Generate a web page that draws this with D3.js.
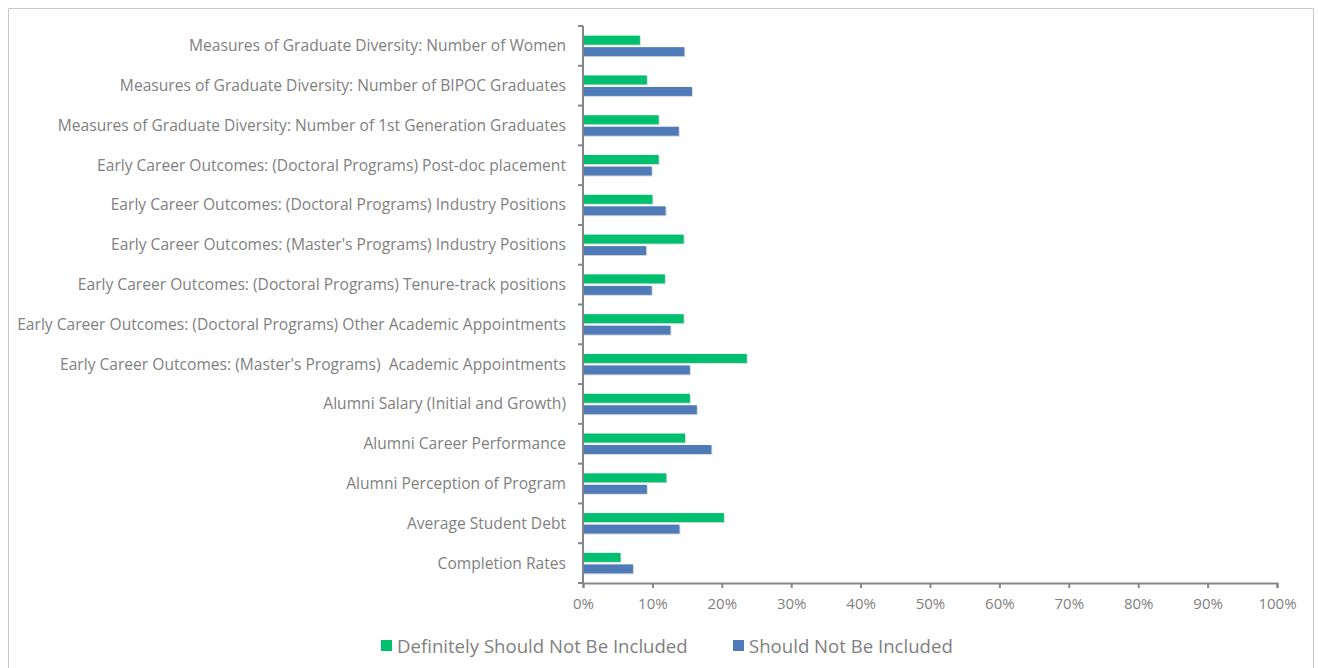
<!DOCTYPE html>
<html>
<head>
<meta charset="utf-8">
<script src="https://cdn.jsdelivr.net/npm/d3@7"></script>
<style>
  body { margin: 0; background: #fff; }
  svg text { font-family: "Open Sans", "Noto Sans", sans-serif; fill: #7f7f7f; white-space: pre; }
</style>
</head>
<body>
<svg width="1318" height="668"></svg>
<script>
// categories top to bottom
const categories = [
    "Measures of Graduate Diversity: Number of Women",
    "Measures of Graduate Diversity: Number of BIPOC Graduates",
    "Measures of Graduate Diversity: Number of 1st Generation Graduates",
    "Early Career Outcomes: (Doctoral Programs) Post-doc placement",
    "Early Career Outcomes: (Doctoral Programs) Industry Positions",
    "Early Career Outcomes: (Master's Programs) Industry Positions",
    "Early Career Outcomes: (Doctoral Programs) Tenure-track positions",
    "Early Career Outcomes: (Doctoral Programs) Other Academic Appointments",
    "Early Career Outcomes: (Master's Programs)  Academic Appointments",
    "Alumni Salary (Initial and Growth)",
    "Alumni Career Performance",
    "Alumni Perception of Program",
    "Average Student Debt",
    "Completion Rates"
];
const definitelyNot = [0.082, 0.092, 0.109, 0.109, 0.100, 0.145, 0.118, 0.145, 0.236, 0.154, 0.147, 0.120, 0.203, 0.054];
const shouldNot = [0.146, 0.157, 0.138, 0.099, 0.119, 0.091, 0.099, 0.126, 0.154, 0.164, 0.185, 0.092, 0.139, 0.072];
const seriesNames = ["Definitely Should Not Be Included", "Should Not Be Included"];
const seriesColors = ["#00bf6f", "#4f7cb8"];
const xTicks = [0, 0.1, 0.2, 0.3, 0.4, 0.5, 0.6, 0.7, 0.8, 0.9, 1.0];

const margin = { top: 26, left: 583, right: 41, bottom: 85 };
const W = 1318, H = 668;

const svg = d3.select("svg");

// outer frame (open at bottom)
svg.append("path")
    .attr("d", "M8.5,668 V8.5 H1313.5 V668")
    .attr("fill", "none")
    .attr("stroke", "#c8c8c8")
    .attr("stroke-width", 1);

const x = d3.scaleLinear().domain([0, 1]).range([margin.left, W - margin.right]);
const y = d3.scaleBand().domain(categories).range([margin.top, H - margin.bottom]);

const g = svg.append("g");

// bars: green on top, blue below, with a faint shadow
const barH = 9, gap = 2.5;
const rows = categories.map((c, i) => ({ c, vals: [definitelyNot[i], shouldNot[i]] }));

rows.forEach(r => {
    const mid = y(r.c) + y.bandwidth() / 2;
    r.vals.forEach((v, k) => {
        const top = k === 0 ? mid - gap / 2 - barH : mid + gap / 2;
        g.append("rect")
            .attr("x", x(0) + 1)
            .attr("y", top + 1)
            .attr("width", x(v) - x(0))
            .attr("height", barH)
            .attr("fill", "#dadada");
        g.append("rect")
            .attr("x", x(0))
            .attr("y", top)
            .attr("width", x(v) - x(0))
            .attr("height", barH)
            .attr("fill", seriesColors[k]);
    });
});

// left axis with ticks at category boundaries
const bounds = categories.map(c => y(c)).concat([y.range()[1]]);
g.append("line")
    .attr("x1", x(0)).attr("x2", x(0))
    .attr("y1", margin.top).attr("y2", H - margin.bottom)
    .attr("stroke", "#868686").attr("stroke-width", 2);
g.selectAll(".ytick").data(bounds).enter().append("line")
    .attr("x1", x(0) - 5).attr("x2", x(0))
    .attr("y1", d => d).attr("y2", d => d)
    .attr("stroke", "#868686").attr("stroke-width", 2);

g.selectAll(".ylab").data(categories).enter().append("text")
    .attr("x", x(0) - 17)
    .attr("y", d => y(d) + y.bandwidth() / 2)
    .attr("dy", "0.35em")
    .attr("text-anchor", "end")
    .style("font-size", "15.6px")
    .text(d => d);

// bottom axis
const xAxis = svg.append("g")
    .attr("transform", "translate(0," + (H - margin.bottom) + ")")
    .call(d3.axisBottom(x).tickValues(xTicks).tickFormat(d3.format(".0%")).tickSize(5).tickPadding(10));
xAxis.select(".domain").attr("stroke", "#868686").attr("stroke-width", 2);
xAxis.selectAll(".tick line").attr("stroke", "#868686").attr("stroke-width", 2);
xAxis.selectAll(".tick text")
    .style("font-size", "15px")
    .style("font-family", "'Open Sans', sans-serif")
    .attr("fill", "#7f7f7f");

// legend
const legendX = [381, 733];
const legend = svg.append("g");
seriesNames.forEach((n, i) => {
    legend.append("rect")
        .attr("x", legendX[i]).attr("y", 640)
        .attr("width", 11).attr("height", 11)
        .attr("fill", seriesColors[i]);
    legend.append("text")
        .attr("x", legendX[i] + 16).attr("y", 646)
        .attr("dy", "0.35em")
        .style("font-size", "18.6px")
        .text(n);
});
</script>
</body>
</html>
